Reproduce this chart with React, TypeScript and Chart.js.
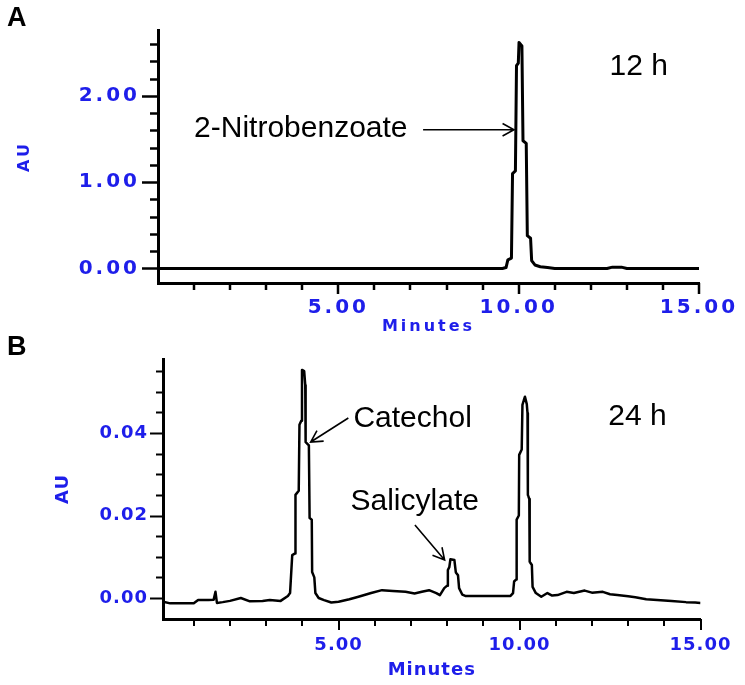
import React, { useEffect, useRef } from 'react';
import { Chart, registerables } from 'chart.js';

Chart.register(...registerables);

// ---------------- Data ----------------
// Panel A (12 h): retention time (min) and absorbance (AU)
const timesA = [0, 9.55, 9.65, 9.7, 9.8, 9.83, 9.91, 9.94, 9.99, 10.01, 10.05, 10.09, 10.12, 10.21, 10.24, 10.33, 10.36, 10.45, 10.6, 10.8, 11.0, 12.45, 12.6, 12.85, 13.0, 15.0];
const valuesA = [0, 0, 0.01, 0.1, 0.12, 1.1, 1.13, 2.35, 2.38, 2.62, 2.6, 2.58, 1.48, 1.45, 0.38, 0.35, 0.09, 0.04, 0.02, 0.01, 0, 0, 0.015, 0.015, 0, 0];

// Panel B (24 h)
const timesB = [0.15, 0.35, 1.0, 1.12, 1.4, 1.55, 1.6, 1.64, 1.8, 2.0, 2.3, 2.55, 2.9, 3.1, 3.4, 3.6, 3.66, 3.72, 3.8, 3.81, 3.9, 3.92, 3.97, 3.99, 4.05, 4.08, 4.09, 4.18, 4.2, 4.26, 4.27, 4.33, 4.36, 4.45, 4.6, 4.8, 5.0, 5.3, 5.55, 5.9, 6.2, 6.5, 6.85, 7.1, 7.3, 7.5, 7.7, 7.8, 7.92, 8.0, 8.02, 8.06, 8.09, 8.2, 8.24, 8.3, 8.33, 8.42, 8.5, 9.75, 9.82, 9.85, 9.91, 9.92, 9.98, 9.99, 10.06, 10.08, 10.12, 10.15, 10.2, 10.22, 10.23, 10.27, 10.28, 10.34, 10.36, 10.45, 10.6, 10.77, 10.9, 11.05, 11.3, 11.5, 11.8, 12.0, 12.3, 12.5, 12.7, 13.0, 13.2, 13.5, 14.0, 14.2, 14.6, 14.85, 15.0];
const valuesB = [-0.0009, -0.0013, -0.0013, -0.0005, -0.0005, -0.0004, 0.0015, -0.0012, -0.001, -0.0007, 0.0, -0.0008, -0.0007, -0.0005, -0.0007, 0.0005, 0.0012, 0.0104, 0.0108, 0.025, 0.026, 0.042, 0.043, 0.0553, 0.055, 0.0516, 0.0378, 0.037, 0.0194, 0.019, 0.0063, 0.005, 0.0012, 0.0, -0.0005, -0.0011, -0.0009, -0.0003, 0.0003, 0.0012, 0.0019, 0.0017, 0.0015, 0.0011, 0.0015, 0.0019, 0.0012, 0.0007, 0.0024, 0.003, 0.0068, 0.0075, 0.0094, 0.0092, 0.0062, 0.0055, 0.0024, 0.0008, 0.0005, 0.0005, 0.0012, 0.004, 0.0045, 0.019, 0.02, 0.0347, 0.036, 0.0468, 0.048, 0.0488, 0.047, 0.0448, 0.025, 0.024, 0.0088, 0.008, 0.0027, 0.0012, 0.0003, 0.0012, 0.0006, 0.0007, 0.0015, 0.0012, 0.0018, 0.0013, 0.0015, 0.0009, 0.0007, 0.0004, 0.0002, -0.0003, -0.0006, -0.0007, -0.001, -0.0011, -0.0012];

// Tick values / labels
const xMajorTicks = [5, 10, 15];
const xTickLabels = ['5.00', '10.00', '15.00'];
const yMajorTicksA = [0, 1, 2];
const yTickLabelsA = ['0.00', '1.00', '2.00'];
const yMajorTicksB = [0, 0.02, 0.04];
const yTickLabelsB = ['0.00', '0.02', '0.04'];

// Annotations (data units)
const notesA = [
  { text: '2-Nitrobenzoate', x: 1.0, y: 1.528 },
  { text: '12 h', x: 12.52, y: 2.247 },
];
const arrowsA = [{ x1: 7.35, y1: 1.607, x2: 9.87, y2: 1.607 }];
const notesB = [
  { text: 'Catechol', x: 5.41, y: 0.04145 },
  { text: 'Salicylate', x: 5.33, y: 0.02133 },
  { text: '24 h', x: 12.45, y: 0.04194 },
];
const arrowsB = [
  { x1: 5.27, y1: 0.04364, x2: 4.23, y2: 0.03782 },
  { x1: 7.11, y1: 0.0177, x2: 7.93, y2: 0.00921 },
];

const BLUE = '#1e1eea';

function labelFor(majors: number[], labels: string[]) {
  return (v: any) => {
    const n = Number(v);
    const i = majors.findIndex((m) => Math.abs(m - n) < 1e-9);
    return i >= 0 ? labels[i] : '';
  };
}

function drawArrow(ctx: CanvasRenderingContext2D, x1: number, y1: number, x2: number, y2: number) {
  const head = 13;
  const ang = 0.5;
  const a = Math.atan2(y2 - y1, x2 - x1);
  ctx.beginPath();
  ctx.moveTo(x1, y1);
  ctx.lineTo(x2, y2);
  ctx.moveTo(x2 - head * Math.cos(a - ang), y2 - head * Math.sin(a - ang));
  ctx.lineTo(x2, y2);
  ctx.lineTo(x2 - head * Math.cos(a + ang), y2 - head * Math.sin(a + ang));
  ctx.stroke();
}

type PanelCfg = {
  id: string;
  letter: string;
  letterY: number;
  times: number[];
  values: number[];
  lineWidth: number;
  xMin: number;
  xMax: number;
  yMin: number;
  yMax: number;
  yStep: number;
  yMajors: number[];
  yLabels: string[];
  yMinorStep: number;
  yMinorMax: number;
  pad: { left: number; top: number; right: number; bottom: number };
  yWidth: number;
  xHeight: number;
  tickFont: number;
  titleFont: number;
  spacing: number;
  yPad: number;
  xPad: number;
  xTitlePad: number;
  yTitlePad: number;
  tickW: number;
  yMinorLen: number;
  yMajorLen: number;
  xMinorLen: number;
  xMajorLen: number;
  notes: { text: string; x: number; y: number }[];
  arrows: { x1: number; y1: number; x2: number; y2: number }[];
};

function makeConfig(p: PanelCfg): any {
  const tickFont = { family: 'DejaVu Sans', weight: 'bold' as const, size: p.tickFont };
  const titleFont = { family: 'DejaVu Sans', weight: 'bold' as const, size: p.titleFont };
  const deco = {
    id: 'deco-' + p.id,
    beforeDraw(chart: any) {
      (chart.ctx as any).letterSpacing = p.spacing + 'px';
    },
    afterDraw(chart: any) {
      const ctx: CanvasRenderingContext2D = chart.ctx;
      (ctx as any).letterSpacing = '0px';
      const xs = chart.scales.x;
      const ys = chart.scales.y;
      const area = chart.chartArea;
      ctx.save();
      ctx.strokeStyle = '#000';
      ctx.lineWidth = p.tickW;
      // y ticks (minor + major)
      for (let v = 0; v <= p.yMinorMax + 1e-9; v += p.yMinorStep) {
        const py = Math.round(ys.getPixelForValue(v)) + 0.5;
        const major = p.yMajors.some((m) => Math.abs(m - v) < 1e-9);
        const len = major ? p.yMajorLen : p.yMinorLen;
        ctx.beginPath();
        ctx.moveTo(area.left - len, py);
        ctx.lineTo(area.left, py);
        ctx.stroke();
      }
      // x ticks (minor + major)
      for (let v = 1; v <= 15 + 1e-9; v += 1) {
        const px = Math.round(xs.getPixelForValue(v));
        const major = xMajorTicks.some((m) => Math.abs(m - v) < 1e-9);
        const len = major ? p.xMajorLen : p.xMinorLen;
        ctx.beginPath();
        ctx.moveTo(px, area.bottom);
        ctx.lineTo(px, area.bottom + len);
        ctx.stroke();
      }
      // annotations
      ctx.fillStyle = '#000';
      ctx.font = '30px "Liberation Sans", Arial, sans-serif';
      ctx.textAlign = 'left';
      ctx.textBaseline = 'alphabetic';
      p.notes.forEach((n) => {
        ctx.fillText(n.text, xs.getPixelForValue(n.x), ys.getPixelForValue(n.y));
      });
      ctx.lineWidth = 1.6;
      p.arrows.forEach((a) => {
        drawArrow(
          ctx,
          xs.getPixelForValue(a.x1),
          ys.getPixelForValue(a.y1),
          xs.getPixelForValue(a.x2),
          ys.getPixelForValue(a.y2)
        );
      });
      // panel letter
      ctx.font = 'bold 27px "Liberation Sans", Arial, sans-serif';
      ctx.fillText(p.letter, 7, p.letterY);
      ctx.restore();
    },
  };

  return {
    type: 'line',
    data: {
      datasets: [
        {
          data: p.times.map((t, i) => ({ x: t, y: p.values[i] })),
          borderColor: '#000',
          borderWidth: p.lineWidth,
          pointRadius: 0,
          tension: 0,
          fill: false,
          borderJoinStyle: 'round',
        },
      ],
    },
    options: {
      animation: false,
      responsive: false,
      events: [],
      layout: { padding: p.pad },
      plugins: { legend: { display: false }, tooltip: { enabled: false } },
      scales: {
        x: {
          type: 'linear',
          min: p.xMin,
          max: p.xMax,
          afterFit: (s: any) => {
            s.height = p.xHeight;
          },
          grid: { display: false, drawTicks: false },
          border: { display: true, color: '#000', width: 3 },
          ticks: {
            stepSize: 5,
            includeBounds: false,
            autoSkip: false,
            maxRotation: 0,
            padding: p.xPad,
            color: BLUE,
            font: tickFont,
            callback: labelFor(xMajorTicks, xTickLabels),
          },
          title: {
            display: true,
            text: 'Minutes',
            color: BLUE,
            font: titleFont,
            padding: { top: 0, bottom: p.xTitlePad },
          },
        },
        y: {
          type: 'linear',
          min: p.yMin,
          max: p.yMax,
          afterFit: (s: any) => {
            s.width = p.yWidth;
          },
          grid: { display: false, drawTicks: false },
          border: { display: true, color: '#000', width: 3 },
          ticks: {
            stepSize: p.yStep,
            includeBounds: false,
            autoSkip: false,
            padding: p.yPad,
            color: BLUE,
            font: tickFont,
            callback: labelFor(p.yMajors, p.yLabels),
          },
          title: {
            display: true,
            text: 'AU',
            color: BLUE,
            font: titleFont,
            padding: { top: p.yTitlePad, bottom: 0 },
          },
        },
      },
    },
    plugins: [deco],
  };
}

const panelA: PanelCfg = {
  id: 'A',
  letter: 'A',
  letterY: 26,
  times: timesA,
  values: valuesA,
  lineWidth: 3,
  xMin: 0,
  xMax: 15,
  yMin: -0.169,
  yMax: 2.764,
  yStep: 1,
  yMajors: yMajorTicksA,
  yLabels: yTickLabelsA,
  yMinorStep: 0.2,
  yMinorMax: 2.6,
  pad: { left: 0, top: 22, right: 46, bottom: 340 },
  yWidth: 158,
  xHeight: 62,
  tickFont: 20,
  titleFont: 16,
  spacing: 3,
  yPad: 18,
  xPad: 13,
  xTitlePad: 9,
  yTitlePad: 15,
  tickW: 2.5,
  yMinorLen: 8,
  yMajorLen: 16,
  xMinorLen: 7,
  xMajorLen: 11,
  notes: notesA,
  arrows: arrowsA,
};

const panelB: PanelCfg = {
  id: 'B',
  letter: 'B',
  letterY: 355,
  times: timesB,
  values: valuesB,
  lineWidth: 2.5,
  xMin: 0.15,
  xMax: 15,
  yMin: -0.00509,
  yMax: 0.05794,
  yStep: 0.02,
  yMajors: yMajorTicksB,
  yLabels: yTickLabelsB,
  yMinorStep: 0.005,
  yMinorMax: 0.055,
  pad: { left: 0, top: 359, right: 40, bottom: 0 },
  yWidth: 163,
  xHeight: 66,
  tickFont: 18,
  titleFont: 18,
  spacing: 1,
  yPad: 15,
  xPad: 16,
  xTitlePad: 4,
  yTitlePad: 53,
  tickW: 2,
  yMinorLen: 7,
  yMajorLen: 13,
  xMinorLen: 7,
  xMajorLen: 11,
  notes: notesB,
  arrows: arrowsB,
};

export default function App() {
  const refA = useRef<HTMLCanvasElement | null>(null);
  const refB = useRef<HTMLCanvasElement | null>(null);

  useEffect(() => {
    const charts: Chart[] = [];
    if (refA.current) charts.push(new Chart(refA.current, makeConfig(panelA)));
    if (refB.current) charts.push(new Chart(refB.current, makeConfig(panelB)));
    return () => charts.forEach((c) => c.destroy());
  }, []);

  const canvasStyle: React.CSSProperties = { position: 'absolute', left: 0, top: 0, width: 745, height: 685 };
  return (
    <div style={{ position: 'absolute', left: 0, top: 0, width: 745, height: 685, background: '#fff' }}>
      <canvas ref={refA} width={745} height={685} style={canvasStyle} />
      <canvas ref={refB} width={745} height={685} style={canvasStyle} />
    </div>
  );
}
